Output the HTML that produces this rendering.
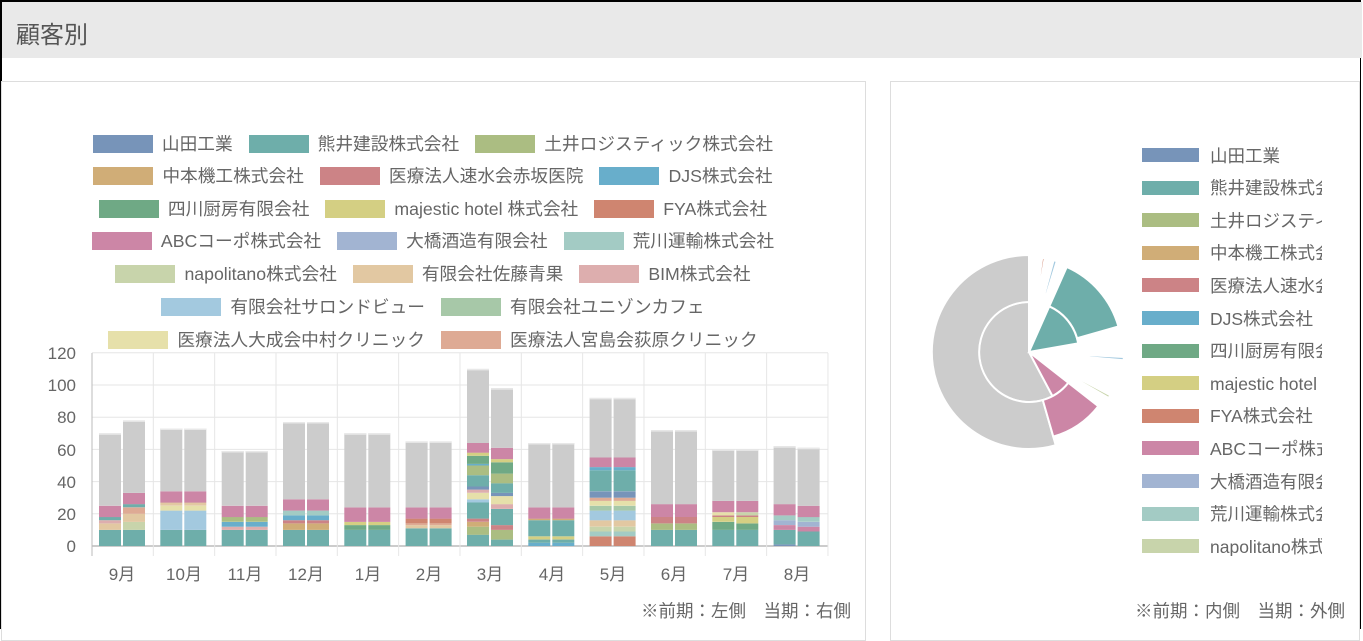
<!DOCTYPE html>
<html><head><meta charset="utf-8">
<style>
html,body{margin:0;padding:0;}
body{width:1363px;height:629px;position:relative;overflow:hidden;background:#fff;font-family:"Liberation Sans","Noto Sans CJK JP",sans-serif;color:#666;}
#frame{position:absolute;left:0;top:0;width:1361px;height:629px;border-left:2px solid #000;border-top:2px solid #000;border-right:1px solid #000;box-sizing:border-box;}
#hdr{position:absolute;left:2px;top:2px;width:1360px;height:56px;background:#e9e9e9;}
#hdr span{position:absolute;left:14px;top:13px;font-size:24px;color:#555;}
#pl{position:absolute;left:1px;top:81px;width:865px;height:560px;border:1px solid #ddd;box-sizing:border-box;}
#pr{position:absolute;left:890px;top:81px;width:470px;height:560px;border:1px solid #ddd;box-sizing:border-box;}
.lrow{position:absolute;left:0;width:866px;display:flex;justify-content:center;font-size:17.7px;line-height:20px;white-space:nowrap;}
.it{display:flex;align-items:center;margin:0 8px;}
.bx{width:60px;height:18px;margin-right:9px;}
.rl{position:absolute;left:1142px;width:180px;overflow:hidden;font-size:17.5px;white-space:nowrap;display:flex;align-items:center;height:20px;}
.rl .bx{width:57px;height:14px;margin-right:11px;flex:none;}
svg{position:absolute;left:0;top:0;}
.note{position:absolute;font-size:17.5px;}
</style></head><body>
<div id="frame"></div>
<div id="hdr"><span>顧客別</span></div>
<div id="pl"></div>
<div id="pr"></div>
<div id="legend"></div>
<div id="rlegend"></div>
<svg id="s" width="1363" height="629">
<g font-size="17" fill="#666" text-anchor="end" font-family="Liberation Sans, sans-serif">
<text x="76" y="552">0</text><text x="76" y="520">20</text><text x="76" y="488">40</text><text x="76" y="456">60</text><text x="76" y="423">80</text><text x="76" y="391">100</text><text x="76" y="359">120</text>
</g>
<g font-size="17" fill="#666" text-anchor="middle" font-family="Liberation Sans, Noto Sans CJK JP, sans-serif">
<text x="122" y="580">9月</text><text x="184" y="580">10月</text><text x="245" y="580">11月</text><text x="306" y="580">12月</text><text x="368" y="580">1月</text><text x="429" y="580">2月</text><text x="490" y="580">3月</text><text x="552" y="580">4月</text><text x="613" y="580">5月</text><text x="674" y="580">6月</text><text x="736" y="580">7月</text><text x="797" y="580">8月</text>
</g>
</svg>
<div class="note" style="right:512px;top:598px;">※前期：左側　当期：右側</div>
<div class="note" style="right:18px;top:598px;">※前期：内側　当期：外側</div>
<script>
var C={gray:"#cccccc",teal:"#6eaeaa",pink:"#cc86a6",blue:"#7794b9",green:"#abbd82",orange:"#d0ad77",red:"#cc8386",cyan:"#68aecb",dkgreen:"#6fa985",yellow:"#d4cf83",fya:"#cf8570",lblue:"#a2b4d2",aqua:"#a3cbc4",sage:"#c8d4ab",beige:"#e2c8a2",rose:"#ddaeae",sky:"#a3c9df",mint:"#a7c8a8",cream:"#e6e0aa",salmon:"#deaa94"};
var names=[["山田工業","blue"],["熊井建設株式会社","teal"],["土井ロジスティック株式会社","green"],["中本機工株式会社","orange"],["医療法人速水会赤坂医院","red"],["DJS株式会社","cyan"],["四川厨房有限会社","dkgreen"],["majestic hotel 株式会社","yellow"],["FYA株式会社","fya"],["ABCコーポ株式会社","pink"],["大橋酒造有限会社","lblue"],["荒川運輸株式会社","aqua"],["napolitano株式会社","sage"],["有限会社佐藤青果","beige"],["BIM株式会社","rose"],["有限会社サロンドビュー","sky"],["有限会社ユニゾンカフェ","mint"],["医療法人大成会中村クリニック","cream"],["医療法人宮島会荻原クリニック","salmon"]];
var rows=[[0,1,2],[3,4,5],[6,7,8],[9,10,11],[12,13,14],[15,16],[17,18]];
var ys=[134,166,199,231,264,297,330],h="";
rows.forEach(function(r,i){h+='<div class="lrow" style="top:'+ys[i]+'px">';r.forEach(function(k){h+='<div class="it"><div class="bx" style="background:'+C[names[k][1]]+'"></div>'+names[k][0]+'</div>';});h+='</div>';});
document.getElementById("legend").innerHTML=h;
h="";for(var i=0;i<13;i++){h+='<div class="rl" style="top:'+(145+i*32.6)+'px"><div class="bx" style="background:'+C[names[i][1]]+'"></div>'+names[i][0]+'</div>';}
document.getElementById("rlegend").innerHTML=h;
var s="",Y=function(v){return 546-1.61*v;};
for(var v=0;v<=120;v+=20)s+='<line x1="92" x2="828" y1="'+Y(v)+'" y2="'+Y(v)+'" stroke="'+(v?"#e6e6e6":"#bbb")+'" stroke-width="'+(v?1:1.5)+'"/>';
for(var i=0;i<=12;i++){var x=92+61.33*i;s+='<line x1="'+x+'" x2="'+x+'" y1="353" y2="556" stroke="'+(i?"#e6e6e6":"#bbb")+'"/>';}
var L=[
[["teal",10],["beige",4],["rose",2],["teal",2],["pink",7],["gray",45]],
[["teal",10],["sage",5],["beige",5],["salmon",4],["teal",2],["pink",7],["gray",45]],
[["teal",10],["sky",12],["cream",3],["beige",2],["pink",7],["gray",39]],0,
[["teal",10],["rose",2],["cyan",3],["green",3],["pink",7],["gray",34]],0,
[["teal",10],["orange",4],["red",2],["cyan",3],["aqua",3],["pink",7],["gray",48]],0,
[["teal",10],["dkgreen",3],["yellow",2],["pink",9],["gray",46]],0,
[["teal",11],["beige",2],["salmon",1],["fya",3],["pink",7],["gray",41]],0,
[["teal",7],["green",5],["orange",3],["red",2],["teal",10],["sky",2],["cream",4],["rose",2],["blue",2],["teal",7],["green",6],["cyan",1],["dkgreen",5],["yellow",2],["pink",6],["gray",46]],
[["teal",4],["green",6],["red",3],["teal",10],["rose",3],["cream",5],["blue",2],["teal",6],["green",6],["dkgreen",7],["yellow",2],["pink",7],["gray",37]],
[["cyan",2],["teal",2],["yellow",2],["teal",10],["orange",1],["pink",7],["gray",40]],0,
[["fya",6],["aqua",3],["sage",3],["beige",4],["sky",6],["mint",3],["cream",3],["salmon",2],["blue",4],["teal",13],["cyan",2],["pink",6],["gray",37]],0,
[["teal",10],["green",4],["red",4],["pink",8],["gray",46]],0,
[["teal",10],["dkgreen",5],["yellow",3],["red",1],["cream",2],["pink",7],["gray",32]],
[["teal",10],["dkgreen",4],["yellow",4],["red",1],["sage",2],["pink",7],["gray",32]],
[["blue",1],["teal",9],["pink",3],["lblue",3],["aqua",3],["pink",7],["gray",36]],
[["teal",9],["pink",3],["lblue",3],["aqua",3],["pink",7],["gray",36]]];
for(var i=0;i<24;i++){var d=L[i]||L[i-1];if(!L[i])L[i]=d;var g=Math.floor(i/2),x=92+61.33*g+(i%2?31:7),acc=0;
d.forEach(function(sg){var y1=Y(acc+sg[1]),y0=Y(acc);s+='<rect x="'+x.toFixed(1)+'" y="'+y1.toFixed(1)+'" width="22" height="'+(y0-y1).toFixed(1)+'" fill="'+C[sg[0]]+'"/>';acc+=sg[1];});
s+='<rect x="'+x.toFixed(1)+'" y="'+Y(acc).toFixed(1)+'" width="22" height="1.5" fill="#e8e8e8"/>';}
var cx=1029,cy=352;
function P(a){return a*Math.PI/180;}
function sec(r0,r1,a0,a1,col){var p=function(r,a){return (cx+r*Math.sin(P(a))).toFixed(1)+","+(cy-r*Math.cos(P(a))).toFixed(1);};var lg=(a1-a0)>180?1:0;
return '<path d="M'+p(r0,a0)+' L'+p(r1,a0)+' A'+r1+','+r1+' 0 '+lg+' 1 '+p(r1,a1)+' L'+p(r0,a1)+(r0>0?' A'+r0+','+r0+' 0 '+lg+' 0 '+p(r0,a0):'')+' Z" fill="'+col+'" stroke="#fff" stroke-width="2"/>';}
s+=sec(0,50,152,360,C.gray)+sec(50,97,164,360,C.gray);
s+=sec(0,50,24,80,C.teal)+sec(50,93,24,74,C.teal);
s+=sec(0,50,128,152,C.pink)+sec(50,88,128,164,C.pink);
s+=sec(60,90,87,88,C.green)+sec(60,95,93,95,C.sky)+sec(60,92,118,120,C.sage)+sec(60,95,8,9.5,C.fya)+sec(60,95,15,17,C.sky)+sec(60,90,3,4,C.cream);
document.getElementById("s").insertAdjacentHTML("afterbegin",s);
</script>
</body></html>
